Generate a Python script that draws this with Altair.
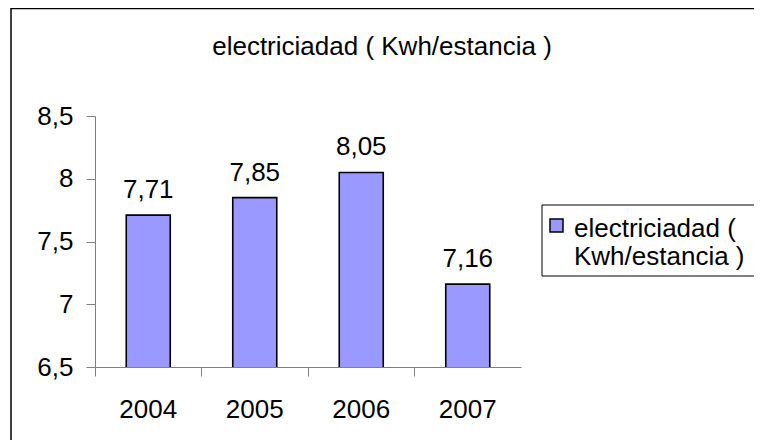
import altair as alt
import pandas as pd

years = ["2004", "2005", "2006", "2007"]
values = [7.71, 7.85, 8.05, 7.16]
series_name = "electriciadad ( Kwh/estancia )"
y_ticks = [6.5, 7, 7.5, 8, 8.5]
y_domain = [6.5, 8.5]

FONT = "Liberation Sans"
FS = 26
BAR_FILL = "#9999FF"
AXIS_GRAY = "#808080"
W, H = 426, 251

df = pd.DataFrame({"year": years, "value": values, "serie": [series_name] * len(years)})
legend_df = pd.DataFrame({"serie": [series_name]})
frame_df = pd.DataFrame({"k": [0]})

color_scale = alt.Scale(domain=[series_name], range=[BAR_FILL])

x_enc = alt.X(
    "year:N", sort=years, title=None,
    scale=alt.Scale(paddingInner=0, paddingOuter=0),
    axis=alt.Axis(
        bandPosition=0, tickSize=9, tickColor=AXIS_GRAY,
        domainColor=AXIS_GRAY, labelFontSize=FS, labelFont=FONT, labelColor="black",
        labelPadding=20, labelAngle=0, grid=False,
    ),
)
y_enc = alt.Y(
    "value:Q", title=None,
    scale=alt.Scale(domain=y_domain, zero=False, nice=False),
    axis=alt.Axis(
        values=y_ticks, labelExpr="replace(format(datum.value, '~g'), '.', ',')",
        tickSize=9, tickColor=AXIS_GRAY, domainColor=AXIS_GRAY, labelFontSize=FS,
        labelFont=FONT, labelColor="black", labelPadding=13, grid=False,
    ),
)

bars = alt.Chart(df).mark_bar(size=44, stroke="black", strokeWidth=1.6, clip=True).encode(
    x=x_enc,
    y=y_enc,
    color=alt.Color("serie:N", scale=color_scale, legend=None),
)

labels = alt.Chart(df).transform_calculate(
    lab="replace(format(datum.value, '.2f'), '.', ',')"
).mark_text(dy=-17, baseline="alphabetic", fontSize=FS, font=FONT, color="black").encode(
    x=alt.X("year:N", sort=years),
    y=alt.Y("value:Q"),
    text=alt.Text("lab:N"),
)

# legend box, swatch and two-line label (Excel-style legend, cut by the right edge)
legend_box = alt.Chart(legend_df).mark_rect(fill="white", stroke="black", strokeWidth=1).encode(
    x=alt.value(447), x2=alt.value(W + 300), y=alt.value(89), y2=alt.value(160)
)
legend_swatch = alt.Chart(legend_df).mark_square(
    size=169, stroke="black", strokeWidth=1.5, opacity=1, filled=True
).encode(
    x=alt.value(461.5), y=alt.value(109.5),
    color=alt.Color("serie:N", scale=color_scale, legend=None),
)
legend_text = alt.Chart(legend_df).transform_calculate(
    wrapped="replace(datum.serie, '( ', '(\\n')"
).mark_text(
    align="left", baseline="alphabetic", fontSize=FS, font=FONT, color="black",
    lineBreak="\n", lineHeight=28,
).encode(
    x=alt.value(479), y=alt.value(121), text=alt.Text("wrapped:N")
)

top_border = alt.Chart(frame_df).mark_rule(color="black", strokeWidth=1.5).encode(
    x=alt.value(-84), x2=alt.value(W + 400), y=alt.value(-107.5)
)
left_border = alt.Chart(frame_df).mark_rule(color="black", strokeWidth=1.5).encode(
    x=alt.value(-84), y=alt.value(-108), y2=alt.value(H + 200)
)

chart = alt.layer(
    bars, labels, legend_box, legend_swatch, legend_text, top_border, left_border
).properties(
    width=W, height=H,
    title=alt.TitleParams(
        text=series_name, fontSize=FS, font=FONT, fontWeight="normal", color="black",
        anchor="middle", frame="group", dx=74, offset=-53,
    ),
    autosize=alt.AutoSizeParams(type="none"),
    padding={"left": 87, "top": 108, "right": 233, "bottom": 73},
).configure(background="white").configure_view(stroke="transparent", strokeWidth=0)

chart.save("out.html", embed_options={"renderer": "svg", "actions": False})
